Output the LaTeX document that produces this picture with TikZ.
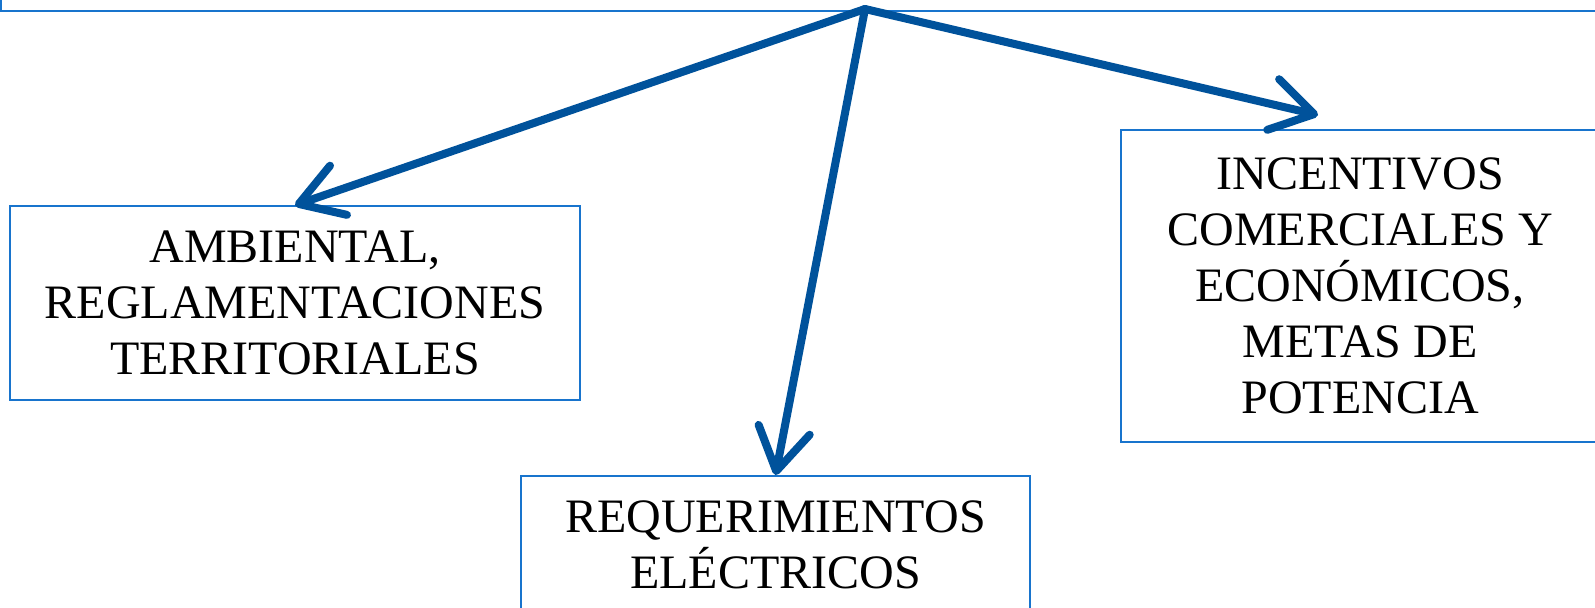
\documentclass[tikz,border=0pt]{standalone}
\usepackage{fontspec}
\setmainfont{Liberation Serif}
\usetikzlibrary{arrows.meta}
\definecolor{boxblue}{RGB}{24,116,205}
\definecolor{arrowblue}{RGB}{0,82,155}

\begin{document}
\begin{tikzpicture}[x=0.5pt,y=-0.5pt,
  caja/.style={draw=boxblue,line width=1pt,inner sep=0pt,align=center,
    font=\fontsize{24}{28}\selectfont},
  flecha/.style={draw=arrowblue,line width=4pt,line cap=round,
    -{Straight Barb[length=21pt,width=26pt,round]}}]
  \clip (0,0) rectangle (1595,607);
  % boxes
  \node[caja,minimum width=849pt,minimum height=55.5pt] (arriba) at (850,-44.5) {};
  \node[caja,minimum width=285pt,minimum height=96.75pt] (ambiental) at (295,303)
    {AMBIENTAL,\\REGLAMENTACIONES\\TERRITORIALES};
  \node[caja,minimum width=254.5pt,minimum height=68.5pt] (electricos) at (775.5,544.5)
    {REQUERIMIENTOS\\ELÉCTRICOS};
  \node[caja,minimum width=239pt,minimum height=155.75pt] (incentivos) at (1360,285.75)
    {INCENTIVOS\\COMERCIALES Y\\ECONÓMICOS,\\METAS DE\\POTENCIA};
  % arrows
  \coordinate (origen) at (865,9);
  \coordinate (punta) at (1318,115);
  \draw[flecha] (origen) -- (ambiental.north);
  \draw[flecha] (origen) -- (electricos.north);
  \draw[flecha] (origen) -- (punta);
\end{tikzpicture}
\end{document}
